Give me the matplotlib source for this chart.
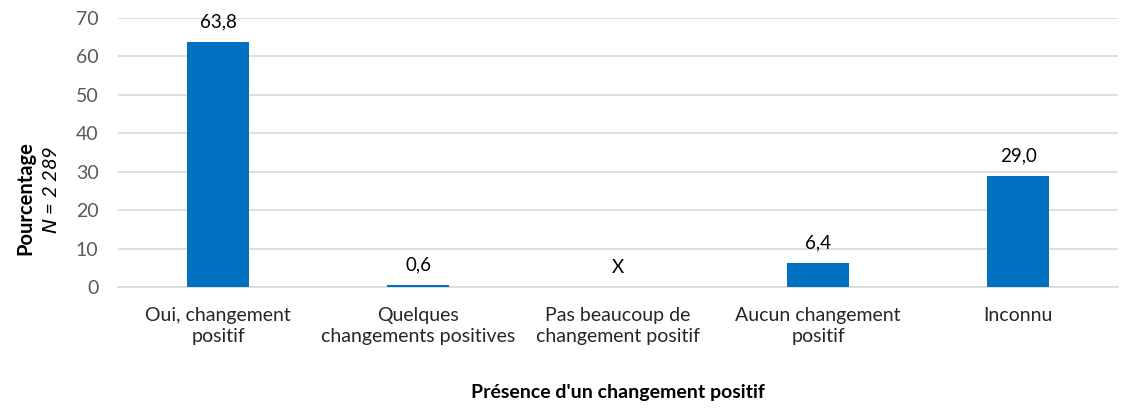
import matplotlib.pyplot as plt
import numpy as np

categories = ["Oui, changement\npositif", "Quelques\nchangements positives",
              "Pas beaucoup de\nchangement positif", "Aucun changement\npositif", "Inconnu"]
values = [63.8, 0.6, np.nan, 6.4, 29.0]
value_labels = ["63,8", "0,6", "X", "6,4", "29,0"]
y_ticks = [0, 10, 20, 30, 40, 50, 60, 70]

plt.rcParams["font.family"] = ["Lato", "DejaVu Sans"]

fig = plt.figure(figsize=(11.4, 4.09), dpi=100)
ax = fig.add_axes([0.1035, 0.298, 0.8775, 0.658])

x = np.arange(len(categories))
bar_vals = [0 if np.isnan(v) else v for v in values]
ax.bar(x, bar_vals, width=0.31, color="#0070C0", zorder=3)

for xi, v, lab in zip(x, bar_vals, value_labels):
    ax.annotate(lab, (xi, v), xytext=(0, 8), textcoords="offset points",
                ha="center", va="bottom", fontsize=13.5, color="black")

ax.set_xlim(-0.5, len(categories) - 0.5)
ax.set_ylim(0, 70)
ax.set_yticks(y_ticks)
ax.set_xticks(x)
ax.set_xticklabels(categories, fontsize=14, color="#262626", linespacing=1.35)
ax.tick_params(axis="y", labelsize=14, labelcolor="#595959", length=0, pad=14)
ax.tick_params(axis="x", length=0, pad=14)
ax.yaxis.grid(True, color="#D9D9D9", linewidth=1.2, zorder=0)
for s in ["top", "right", "left"]:
    ax.spines[s].set_visible(False)
ax.spines["bottom"].set_color("#D9D9D9")
ax.spines["bottom"].set_linewidth(1.2)

fig.text(0.022, 0.515, "Pourcentage", rotation=90, ha="center", va="center",
         fontsize=14.5, fontweight="bold")
fig.text(0.045, 0.535, "$\\mathit{N}$ = 2 289", rotation=90, ha="center", va="center",
         fontsize=14.5, style="italic")
fig.text(0.542, 0.04, "Présence d'un changement positif", ha="center", va="center",
         fontsize=14, fontweight="bold")

fig.savefig("out.png", dpi=100)
